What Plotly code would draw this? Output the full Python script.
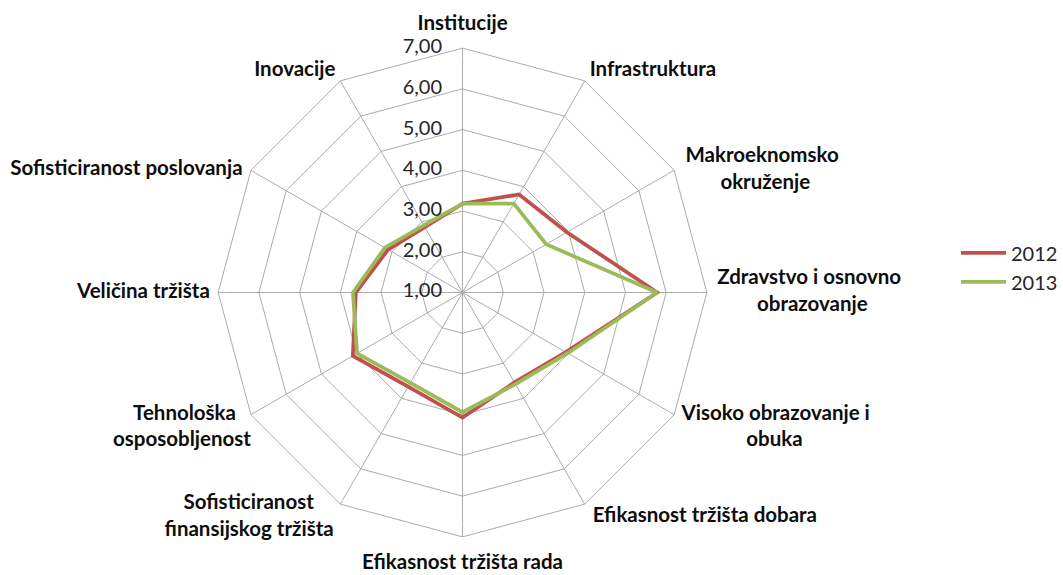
import plotly.graph_objects as go

NB = "\u00a0"
categories = [
    "Institucije",
    "Infrastruktura",
    "Makroeknomsko okruženje",
    "Zdravstvo i osnovno obrazovanje",
    "Visoko obrazovanje i obuka",
    "Efikasnost tržišta dobara",
    "Efikasnost tržišta rada",
    "Sofisticiranost finansijskog tržišta",
    "Tehnološka osposobljenost",
    "Veličina tržišta",
    "Sofisticiranost poslovanja",
    "Inovacije",
]
# displayed (wrapped) category labels
category_labels = [
    "Institucije",
    NB + "Infrastruktura",
    "Makroeknomsko<br>" + NB * 7 + "okruženje",
    "Zdravstvo i osnovno<br>" + NB * 8 + "obrazovanje",
    NB + "<br>Visoko obrazovanje i<br>" + NB * 13 + "obuka",
    NB + "Efikasnost tržišta dobara",
    "Efikasnost tržišta rada",
    NB + "<br>Sofisticiranost" + NB * 4 + "<br>finansijskog tržišta",
    NB + "<br>Tehnološka" + NB * 3 + "<br>osposobljenost",
    "Veličina tržišta",
    "Sofisticiranost poslovanja",
    "Inovacije" + NB,
]
values_2012 = [3.18, 3.78, 3.96, 5.78, 3.93, 3.55, 4.07, 3.67, 4.11, 3.62, 3.11, 2.85]
values_2013 = [3.18, 3.52, 3.37, 5.78, 3.98, 3.60, 3.94, 3.56, 3.99, 3.69, 3.20, 2.90]
series_names = ["2012", "2013"]
series_colors = ["#C0504D", "#9BBB59"]
radial_ticks = [1, 2, 3, 4, 5, 6, 7]
radial_tick_text = ["1,00", "2,00", "3,00", "4,00", "5,00", "6,00", "7,00"]

# label placement (style only)
label_positions = ["top center", "top right", "middle right", "middle right",
                   "middle right", "bottom right", "bottom center", "middle left",
                   "middle left", "middle left", "middle left", "top left"]
label_offsets = [18.7, 0, 16.6, 14.9, 10.2, 3.2, 24.6, 9.0, 0, 11.7, 11.8, 0]

FONT = "Lato, Calibri, sans-serif"

fig = go.Figure()
for name, vals, col in zip(series_names, [values_2012, values_2013], series_colors):
    fig.add_trace(go.Scatterpolar(
        r=vals + vals[:1],
        theta=categories + categories[:1],
        mode="lines",
        name=name,
        line=dict(color=col, width=3.75),
    ))

# category labels around the outer ring
fig.add_trace(go.Scatterpolar(
    r=[radial_ticks[-1]] * len(categories),
    theta=categories,
    mode="markers+text",
    text=category_labels,
    textposition=label_positions,
    marker=dict(size=label_offsets, color="rgba(0,0,0,0)"),
    textfont=dict(family=FONT, size=20.5, color="#0d0d0d", weight="bold"),
    showlegend=False,
    hoverinfo="skip",
    cliponaxis=False,
))

# radial value labels, drawn horizontally beside the top spoke
fig.add_trace(go.Scatterpolar(
    r=radial_ticks,
    theta=[categories[0]] * len(radial_ticks),
    mode="text",
    text=[t + NB * 4 for t in radial_tick_text],
    textposition="middle left",
    textfont=dict(family=FONT, size=20, color="#262626"),
    showlegend=False,
    hoverinfo="skip",
    cliponaxis=False,
))

grid = "#ABABAB"
fig.update_layout(
    width=1063, height=575,
    margin=dict(l=0, r=0, t=0, b=0),
    paper_bgcolor="white",
    font=dict(family=FONT, size=20, color="#1a1a1a"),
    polar=dict(
        domain=dict(x=[0.2072, 0.6713], y=[0.0623, 0.9203]),
        bgcolor="white",
        gridshape="linear",
        angularaxis=dict(
            direction="clockwise", rotation=90,
            showline=True, linecolor=grid, linewidth=1,
            gridcolor=grid, gridwidth=1,
            ticks="", showticklabels=False,
        ),
        radialaxis=dict(
            range=[0.999, 7], tickvals=radial_ticks, showticklabels=False,
            angle=90, showline=False, gridcolor=grid, gridwidth=1, ticks="",
        ),
    ),
    legend=dict(x=0.9083, y=0.535, xanchor="left", yanchor="middle",
                font=dict(family=FONT, size=20, color="#262626"),
                itemwidth=45, tracegroupgap=0),
)

fig.write_html("out.html", config={"displayModeBar": False},
               post_script="document.body.style.margin='0px';")
